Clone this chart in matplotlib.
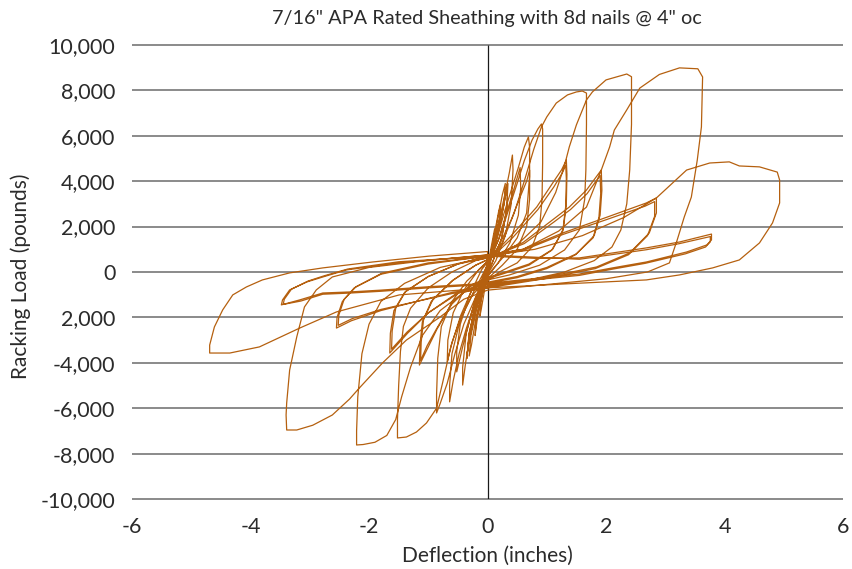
#------------------------------------------------------------------------------------------------------------------
#   Racking load vs deflection hysteresis (7/16" APA sheathing)
#------------------------------------------------------------------------------------------------------------------

import numpy as np
import matplotlib
matplotlib.use('Agg')
import matplotlib.pyplot as plt

#------------------------------------------------------------------------------------------------------------------
#   Data (deflection in inches, load in pounds), one list per cycle
#------------------------------------------------------------------------------------------------------------------

# small elastic cycles
small_a_x = [0.00, 0.04, 0.09, 0.12, 0.11, 0.05, -0.02, -0.07, -0.11, -0.13, -0.11, -0.05, 0.01]
small_a_y = [0, 800, 1500, 1900, 1300, 400, -300, -1100, -1700, -1950, -1300, -400, 200]
small_b_x = [0.01, 0.06, 0.13, 0.19, 0.22, 0.20, 0.12, 0.03, -0.05, -0.12, -0.18, -0.21, -0.19, -0.10, -0.02, 0.03]
small_b_y = [200, 900, 1900, 2700, 3000, 2300, 1300, 400, -400, -1300, -2200, -2800, -2100, -1100, -300, 300]
small_c_x = [0.03, 0.09, 0.17, 0.25, 0.30, 0.28, 0.18, 0.06, -0.04, -0.12, -0.20, -0.27, -0.31, -0.28, -0.17, -0.05, 0.02]
small_c_y = [300, 1100, 2300, 3400, 3900, 3000, 1700, 600, -300, -1100, -2100, -3200, -3700, -2800, -1400, -300, 400]

# stage 1 : +0.42 / -0.42
s1_x = [0.02, 0.10, 0.20, 0.30, 0.37, 0.42, 0.43, 0.40, 0.30, 0.14, 0.00, -0.10, -0.20, -0.30, -0.37, -0.42,
        -0.42, -0.36, -0.22, -0.08, 0.02]
s1_y = [400, 1200, 2300, 3500, 4400, 5150, 4500, 3000, 1600, 500, -100, -800, -1700, -2900, -4000, -4980,
        -4200, -2700, -1300, -200, 500]
t1_x = [0.02, 0.12, 0.22, 0.30, 0.34, 0.33, 0.24, 0.08, -0.05, -0.15, -0.25, -0.32, -0.35, -0.31, -0.18, -0.05, 0.03]
t1_y = [500, 1300, 2300, 3300, 3900, 2900, 1500, 400, -300, -1000, -2000, -3100, -3800, -2700, -1200, -100, 500]

# stage 2 : +0.69 / -0.64
s2_x = [0.03, 0.15, 0.28, 0.40, 0.52, 0.62, 0.69, 0.71, 0.71, 0.66, 0.50, 0.28, 0.08, -0.08, -0.22, -0.36, -0.48,
        -0.58, -0.64, -0.64, -0.60, -0.46, -0.24, -0.06, 0.05]
s2_y = [500, 1400, 2600, 3600, 4600, 5500, 5950, 5500, 4200, 2600, 1500, 700, 100, -500, -1400, -2500, -3600,
        -4800, -5720, -5000, -3600, -2100, -900, 0, 600]
t2_x = [0.05, 0.18, 0.32, 0.45, 0.55, 0.56, 0.52, 0.38, 0.18, 0.00, -0.15, -0.30, -0.42, -0.52, -0.52, -0.46,
        -0.30, -0.10, 0.05]
t2_y = [600, 1400, 2600, 3700, 4600, 3700, 2500, 1300, 400, -200, -1000, -2100, -3300, -4400, -3500, -2300,
        -1000, 100, 600]

# stage 3 : +0.91 / -0.86
s3_x = [0.05, 0.20, 0.35, 0.50, 0.62, 0.75, 0.85, 0.91, 0.93, 0.93, 0.92, 0.88, 0.75, 0.50, 0.20, 0.00, -0.20,
        -0.40, -0.55, -0.68, -0.80, -0.86, -0.86, -0.84, -0.78, -0.60, -0.35, -0.10, 0.05]
s3_y = [600, 1500, 2700, 3900, 4900, 5800, 6300, 6520, 6300, 4800, 3200, 2000, 1100, 400, 0, -400, -1100,
        -2300, -3600, -4900, -5800, -6210, -5400, -3800, -2400, -1300, -400, 200, 600]
t3_x = [0.05, 0.20, 0.40, 0.55, 0.66, 0.71, 0.71, 0.66, 0.50, 0.25, 0.00, -0.25, -0.45, -0.60, -0.68, -0.67,
        -0.58, -0.40, -0.15, 0.05]
t3_y = [600, 1200, 2300, 3300, 4000, 4490, 3200, 2000, 1000, 300, -300, -1000, -2000, -3100, -3960, -3000,
        -1800, -800, 100, 600]

# stage 4 : +1.60 / -1.52
s4_x = [0.05, 0.25, 0.45, 0.62, 0.78, 0.91, 1.00, 1.16, 1.35, 1.50, 1.60, 1.67, 1.67, 1.66, 1.64, 1.55, 1.30,
        0.88, 0.37, 0.00, -0.25, -0.45, -0.62, -0.76, -0.86, -1.03, -1.20, -1.37, -1.52, -1.52, -1.50, -1.47,
        -1.42, -1.30, -1.00, -0.60, -0.20, 0.05]
s4_y = [600, 1300, 2600, 4000, 5400, 6390, 6830, 7440, 7800, 7930, 7970, 7880, 6500, 4500, 3200, 1850, 970,
        300, -130, -350, -700, -1900, -3300, -4900, -6000, -6650, -7050, -7270, -7310, -6500, -5000, -3500,
        -2400, -1600, -700, 0, 500, 650]
t4a_x = [0.05, 0.40, 0.83, 1.10, 1.25, 1.33, 1.34, 1.33, 1.28, 1.10, 0.70, 0.30, 0.00, -0.30, -0.60, -0.85,
         -1.00, -1.15, -1.14, -1.10, -0.95, -0.60, -0.20, 0.05]
t4a_y = [650, 1600, 2860, 3920, 4500, 4930, 4300, 3000, 1900, 1000, 350, 0, -250, -600, -1400, -2500,
         -3300, -4100, -3200, -2200, -1300, -400, 300, 600]
t4b_x = [0.05, 0.42, 0.85, 1.12, 1.26, 1.32, 1.33, 1.32, 1.27, 1.08, 0.70, 0.30, 0.00, -0.30, -0.62, -0.86,
         -1.02, -1.13, -1.12, -1.08, -0.92, -0.58, -0.20, 0.05]
t4b_y = [600, 1500, 2750, 3750, 4350, 4700, 4100, 2900, 1800, 950, 300, -50, -300, -650, -1450, -2500,
         -3250, -3900, -3100, -2100, -1200, -350, 300, 600]

# stage 5 : +2.35 / -2.21
s5_x = [0.05, 0.50, 0.90, 1.15, 1.30, 1.38, 1.50, 1.67, 1.77, 2.00, 2.35, 2.43, 2.43, 2.40, 2.35, 2.25, 2.10,
        1.80, 1.30, 0.70, 0.00, -0.40, -0.80, -1.10, -1.30, -1.45, -1.55, -1.70, -1.90, -2.10, -2.21, -2.21,
        -2.19, -2.12, -2.00, -1.80, -1.40, -0.80, -0.20, 0.05]
s5_y = [600, 1200, 2200, 3500, 4700, 5510, 6480, 7580, 7930, 8460, 8720, 8600, 6500, 4500, 3000, 1850, 1100,
        500, 0, -350, -600, -900, -1700, -2800, -4200, -5500, -6500, -7200, -7500, -7600, -7620, -7000,
        -5500, -3600, -2300, -1300, -500, 200, 550, 650]
t5a_x = [0.05, 0.60, 1.10, 1.38, 1.67, 1.92, 1.93, 1.90, 1.80, 1.50, 1.00, 0.50, 0.00, -0.50, -1.00, -1.35,
         -1.65, -1.64, -1.58, -1.40, -1.00, -0.50, 0.05]
t5a_y = [650, 1300, 2300, 2860, 3610, 4490, 3600, 2500, 1600, 800, 200, -200, -450, -900, -1800, -2700,
         -3570, -2700, -1700, -900, -200, 350, 650]
t5b_x = [0.05, 0.62, 1.12, 1.40, 1.68, 1.90, 1.91, 1.88, 1.78, 1.48, 1.00, 0.50, 0.00, -0.50, -1.00, -1.36,
         -1.62, -1.61, -1.55, -1.38, -1.00, -0.50, 0.00]
t5b_y = [650, 1250, 2200, 2750, 3450, 4250, 3450, 2400, 1500, 750, 150, -250, -500, -950, -1800, -2650,
         -3400, -2600, -1600, -850, -200, 350, 700]

# stage 6 : +3.63 / -3.39
s6_x = [0.00, 0.60, 1.20, 1.67, 1.92, 2.06, 2.14, 2.35, 2.57, 2.90, 3.24, 3.55, 3.63, 3.61, 3.54, 3.44, 3.32,
        3.20, 3.07, 2.70, 2.00, 1.00, 0.00, -0.40, -0.81, -1.37, -1.77, -2.16, -2.33, -2.62, -2.95, -3.22,
        -3.39, -3.40, -3.39, -3.34, -3.22, -3.09, -2.89, -2.62, -2.00, -1.20, 0.00]
s6_y = [700, 1000, 1800, 2860, 4490, 5500, 6250, 7140, 8100, 8700, 8990, 8950, 8590, 6390, 4930, 3300, 2420,
        1400, 400, 0, -300, -550, -800, -1200, -2000, -3000, -4000, -5100, -5600, -6300, -6750, -6960,
        -6960, -6300, -5770, -4320, -2860, -1540, -790, -220, 200, 450, 750]
t6a_x = [0.00, 0.60, 1.27, 2.00, 2.68, 2.85, 2.85, 2.73, 2.40, 1.84, 1.00, 0.00, -0.60, -1.20, -1.80, -2.30,
         -2.55, -2.54, -2.45, -2.25, -1.80, -1.00, 0.00]
t6a_y = [750, 1000, 1720, 2400, 3040, 3260, 2600, 1720, 840, 220, -220, -650, -900, -1300, -1700, -2150,
         -2470, -2000, -1300, -700, -100, 350, 700]
t6b_x = [0.00, 0.60, 1.27, 2.00, 2.66, 2.82, 2.82, 2.70, 2.38, 1.82, 1.00, 0.00, -0.60, -1.20, -1.80, -2.28,
         -2.52, -2.51, -2.42, -2.22, -1.78, -1.00, 0.00]
t6b_y = [700, 950, 1650, 2300, 2900, 3100, 2450, 1600, 760, 150, -280, -700, -950, -1300, -1650, -2050,
         -2350, -1900, -1200, -650, -50, 400, 700]

# stage 7 : +4.93 / -4.69
s7_x = [0.00, 0.80, 1.60, 2.30, 2.85, 3.36, 3.75, 4.08, 4.25, 4.59, 4.89, 4.93, 4.93, 4.81, 4.59, 4.25, 3.80,
        3.24, 2.68, 1.50, 0.00, -1.49, -2.55, -3.17, -3.85, -4.35, -4.69, -4.69, -4.61, -4.47, -4.30, -4.07,
        -3.80, -3.34, -2.78, -1.94, -0.98, 0.00]
s7_y = [700, 1000, 1600, 2400, 3260, 4490, 4800, 4850, 4670, 4630, 4400, 4050, 3040, 2160, 1280, 530, 180,
        -130, -350, -500, -700, -1010, -1760, -2470, -3300, -3570, -3570, -3220, -2420, -1670, -1010, -660,
        -350, -40, 180, 440, 700, 900]
t7a_x = [0.00, 0.80, 1.55, 2.68, 3.24, 3.78, 3.78, 3.70, 3.36, 2.68, 2.11, 1.55, 0.00, -1.00, -1.80, -2.33,
         -2.78, -3.17, -3.48, -3.46, -3.34, -3.05, -2.78, -2.38, -1.50, 0.00]
t7a_y = [700, 600, 620, 1060, 1320, 1670, 1410, 1190, 880, 440, 180, -90, -500, -650, -800, -880,
         -925, -1230, -1450, -1230, -790, -440, -220, 90, 400, 750]
t7b_x = [0.00, 0.80, 1.55, 2.68, 3.24, 3.76, 3.76, 3.68, 3.34, 2.66, 2.10, 1.55, 0.00, -1.00, -1.80, -2.33,
         -2.78, -3.15, -3.45, -3.43, -3.31, -3.03, -2.76, -2.36, -1.50, 0.00]
t7b_y = [750, 650, 560, 980, 1250, 1560, 1330, 1100, 800, 380, 120, -150, -550, -700, -850, -930,
         -980, -1280, -1430, -1200, -760, -400, -170, 130, 450, 700]

cycles = [(small_a_x, small_a_y), (small_b_x, small_b_y), (small_c_x, small_c_y),
          (s1_x, s1_y), (t1_x, t1_y), (t1_x, t1_y),
          (s2_x, s2_y), (t2_x, t2_y),
          (s3_x, s3_y), (t3_x, t3_y),
          (s4_x, s4_y), (t4a_x, t4a_y), (t4b_x, t4b_y),
          (s5_x, s5_y), (t5a_x, t5a_y), (t5b_x, t5b_y),
          (s6_x, s6_y), (t6a_x, t6a_y), (t6b_x, t6b_y),
          (s7_x, s7_y), (t7a_x, t7a_y), (t7b_x, t7b_y)]

deflection = np.concatenate([np.array(c[0]) for c in cycles])
load = np.concatenate([np.array(c[1]) for c in cycles])

x_ticks = [-6, -4, -2, 0, 2, 4, 6]
y_ticks = [-10000, -8000, -6000, -4000, -2000, 0, 2000, 4000, 6000, 8000, 10000]
y_labels = ['-10,000', '-8,000', '-6,000', '-4,000', '2,000', '0', '2,000', '4,000', '6,000', '8,000', '10,000']

#------------------------------------------------------------------------------------------------------------------
#   Plot
#------------------------------------------------------------------------------------------------------------------

plt.rcParams['font.family'] = ['Lato', 'DejaVu Sans']
text_color = '#2b2b2b'

fig = plt.figure(figsize=(8.53, 5.69), dpi=100)
ax = fig.add_axes([0.1548, 0.123, 0.8335, 0.798])

ax.hlines(y_ticks, -6, 6, colors='#8a8a8a', linewidth=1.4, zorder=1, clip_on=False)
ax.vlines(0, -10000, 10000, colors='#1a1a1a', linewidth=0.9, zorder=2)
ax.plot(deflection, load, color='#b5600f', linewidth=0.9, zorder=3)

ax.set_xlim(-6, 6)
ax.set_ylim(-10000, 10000)
ax.set_xticks(x_ticks)
ax.set_xticklabels([str(v) for v in x_ticks])
ax.set_yticks(y_ticks)
ax.set_yticklabels(y_labels)
ax.tick_params(axis='both', length=0, labelsize=15.5, labelcolor=text_color)
ax.tick_params(axis='y', pad=12)
ax.tick_params(axis='x', pad=13)
for s in ax.spines.values():
    s.set_visible(False)

fig.text(0.571, 0.968, '7/16" APA Rated Sheathing with 8d nails @ 4" oc', ha='center', va='center',
         fontsize=14.3, color=text_color)
fig.text(0.571, 0.023, 'Deflection (inches)', ha='center', va='center', fontsize=15, color=text_color)
fig.text(0.024, 0.515, 'Racking Load (pounds)', ha='center', va='center', rotation=90, fontsize=15,
         color=text_color)

fig.savefig('out.png', dpi=100)
